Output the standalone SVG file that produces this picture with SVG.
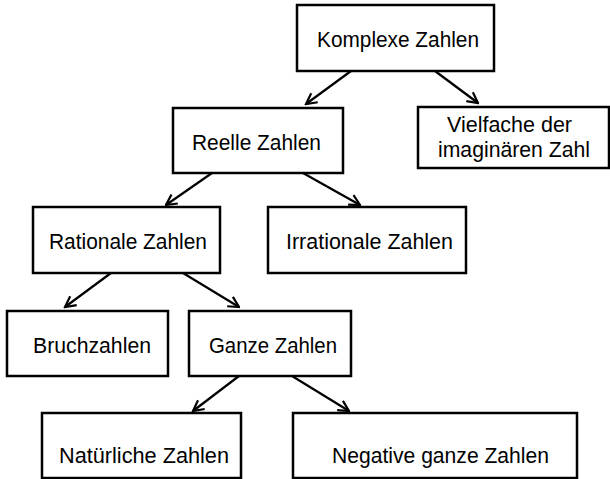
<svg xmlns="http://www.w3.org/2000/svg" width="610" height="479" viewBox="0 0 610 479">
<style>
.box{fill:#fff;stroke:#000;stroke-width:2.5}
.lbl{font-family:"Liberation Sans",Arial,sans-serif;font-size:22px;fill:#000}
.edge{stroke:#000;stroke-width:2.2;fill:none;marker-end:url(#arr)}
</style>
<defs>
<marker id="arr" viewBox="0 0 14 14" refX="12.5" refY="7" markerWidth="14" markerHeight="14" markerUnits="userSpaceOnUse" orient="auto">
<path d="M2,1.5 L12.5,7 L2,12.5" fill="none" stroke="#000" stroke-width="2.2"/>
</marker>
</defs>
<rect width="610" height="479" fill="#fff"/>
<g id="connectors">
<line class="edge" x1="351" y1="71" x2="306" y2="104"/>
<line class="edge" x1="435" y1="71" x2="478" y2="103"/>
<line class="edge" x1="212" y1="173" x2="166" y2="205"/>
<line class="edge" x1="303" y1="173" x2="360" y2="205"/>
<line class="edge" x1="111" y1="273" x2="65" y2="307"/>
<line class="edge" x1="183" y1="273" x2="239" y2="307"/>
<line class="edge" x1="239" y1="376" x2="193" y2="411"/>
<line class="edge" x1="292" y1="376" x2="349" y2="411"/>
</g>
<g id="komplexe"><rect class="box" x="297" y="5" width="197" height="66"/><text class="lbl" x="317" y="47" textLength="162" lengthAdjust="spacingAndGlyphs">Komplexe Zahlen</text></g>
<g id="reelle"><rect class="box" x="173" y="108" width="170" height="65"/><text class="lbl" x="192" y="150" textLength="129" lengthAdjust="spacingAndGlyphs">Reelle Zahlen</text></g>
<g id="vielfache"><rect class="box" x="418" y="107" width="191" height="61"/><text class="lbl" x="447" y="132" textLength="125" lengthAdjust="spacingAndGlyphs">Vielfache der</text><text class="lbl" x="438" y="157" textLength="152" lengthAdjust="spacingAndGlyphs">imaginären Zahl</text></g>
<g id="rational"><rect class="box" x="33" y="207" width="187" height="66"/><text class="lbl" x="49" y="249" textLength="158" lengthAdjust="spacingAndGlyphs">Rationale Zahlen</text></g>
<g id="irrational"><rect class="box" x="268" y="207" width="198" height="66"/><text class="lbl" x="286" y="249" textLength="167" lengthAdjust="spacingAndGlyphs">Irrationale Zahlen</text></g>
<g id="bruch"><rect class="box" x="7" y="311" width="161" height="65"/><text class="lbl" x="33" y="353" textLength="118" lengthAdjust="spacingAndGlyphs">Bruchzahlen</text></g>
<g id="ganze"><rect class="box" x="189" y="311" width="162" height="65"/><text class="lbl" x="209" y="353" textLength="128" lengthAdjust="spacingAndGlyphs">Ganze Zahlen</text></g>
<g id="natuerliche"><rect class="box" x="42" y="413" width="199" height="65"/><text class="lbl" x="59" y="463" textLength="170" lengthAdjust="spacingAndGlyphs">Natürliche Zahlen</text></g>
<g id="negative"><rect class="box" x="293" y="413" width="284" height="65"/><text class="lbl" x="332" y="463" textLength="217" lengthAdjust="spacingAndGlyphs">Negative ganze Zahlen</text></g>
</svg>
